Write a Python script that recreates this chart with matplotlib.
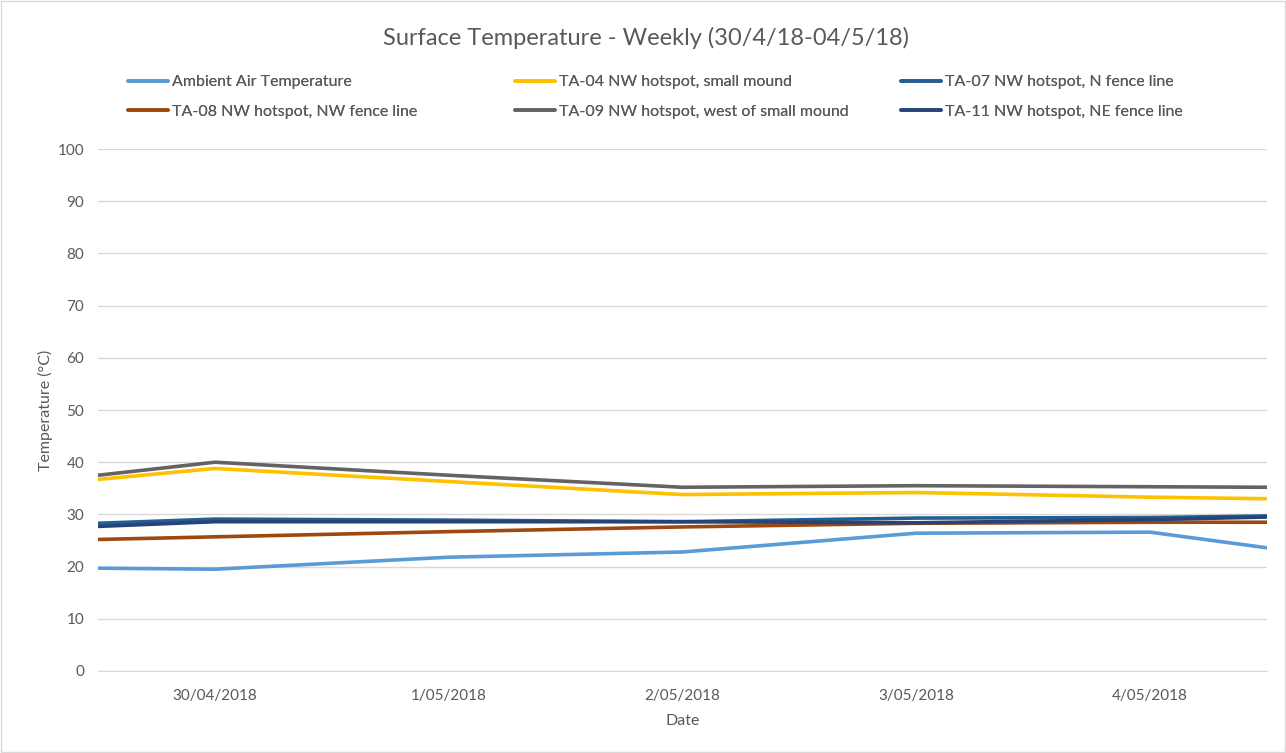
import matplotlib
matplotlib.use("Agg")
import matplotlib.pyplot as plt
from matplotlib.patches import Rectangle
import datetime as dt

plt.rcParams['font.family'] = ['Lato', 'DejaVu Sans']

times = ["2018-04-29 12:00", "2018-04-30 00:00", "2018-05-01 00:00", "2018-05-02 00:00",
         "2018-05-03 00:00", "2018-05-04 00:00", "2018-05-04 12:00"]
ambient = [19.7, 19.5, 21.8, 22.8, 26.4, 26.6, 23.6]
ta04 = [36.7, 38.8, 36.3, 33.8, 34.2, 33.3, 33.0]
ta07 = [28.3, 29.1, 28.9, 28.6, 29.3, 29.4, 29.7]
ta08 = [25.2, 25.7, 26.7, 27.6, 28.3, 28.5, 28.5]
ta09 = [37.5, 40.0, 37.5, 35.2, 35.5, 35.3, 35.2]
ta11 = [27.7, 28.6, 28.6, 28.6, 28.4, 29.0, 29.5]
tick_dates = ["2018-04-30", "2018-05-01", "2018-05-02", "2018-05-03", "2018-05-04"]
tick_labels = ["30/04/2018", "1/05/2018", "2/05/2018", "3/05/2018", "4/05/2018"]

x = [dt.datetime.strptime(t, "%Y-%m-%d %H:%M") for t in times]
xt = [dt.datetime.strptime(t, "%Y-%m-%d") for t in tick_dates]

fig = plt.figure(figsize=(12.86, 7.53), dpi=100)
ax = fig.add_axes([0.0762, 0.1089, 0.9090, 0.6932])

series = [
    ("Ambient Air Temperature", ambient, "#5B9BD5"),
    ("TA-04 NW hotspot, small mound", ta04, "#FFC000"),
    ("TA-07 NW hotspot, N fence line", ta07, "#255E91"),
    ("TA-08 NW hotspot, NW fence line", ta08, "#9E480E"),
    ("TA-09 NW hotspot, west of small mound", ta09, "#636363"),
    ("TA-11 NW hotspot, NE fence line", ta11, "#264478"),
]
handles = []
for name, vals, col in series:
    h, = ax.plot(x, vals, color=col, lw=2.6, label=name, solid_capstyle='round')
    handles.append(h)

ax.set_xlim(x[0], x[-1])
ax.set_ylim(0, 100)
ax.set_yticks(range(0, 101, 10))
ax.set_xticks(xt)
ax.set_xticklabels(tick_labels)
ax.grid(axis='y', color='#D9D9D9', lw=1)
ax.set_axisbelow(True)
for s in ['top', 'right', 'left']:
    ax.spines[s].set_visible(False)
ax.spines['bottom'].set_color('#D9D9D9')
ax.tick_params(axis='both', length=0, colors='#595959', labelsize=11)
ax.tick_params(axis='x', pad=13)
ax.tick_params(axis='y', pad=10)
ax.set_ylabel("Temperature (°C)", color='#595959', fontsize=11.5, labelpad=3)
ax.set_xlabel("Date", color='#595959', fontsize=11.5, labelpad=8)

fig.text(0.502, 0.949, "Surface Temperature - Weekly (30/4/18-04/5/18)", ha='center', va='center',
         fontsize=17, color='#595959')

# legend laid out row-wise in three equal-width columns
col_x = [0.0995, 0.4005, 0.7006]
for c in range(3):
    leg = fig.legend(handles=[handles[c], handles[c + 3]], loc='upper left',
                     bbox_to_anchor=(col_x[c], 0.9004),
                     frameon=False, fontsize=11.5, handlelength=2.5, handletextpad=0.25,
                     labelspacing=0.95, borderaxespad=0, borderpad=0)
    for t in leg.get_texts():
        t.set_color('#595959')
    fig.add_artist(leg)

fig.patches.append(Rectangle((0.001, 0.001), 0.998, 0.998, transform=fig.transFigure,
                             fill=False, edgecolor='#D9D9D9', lw=1))

fig.savefig("out.png", dpi=100)
